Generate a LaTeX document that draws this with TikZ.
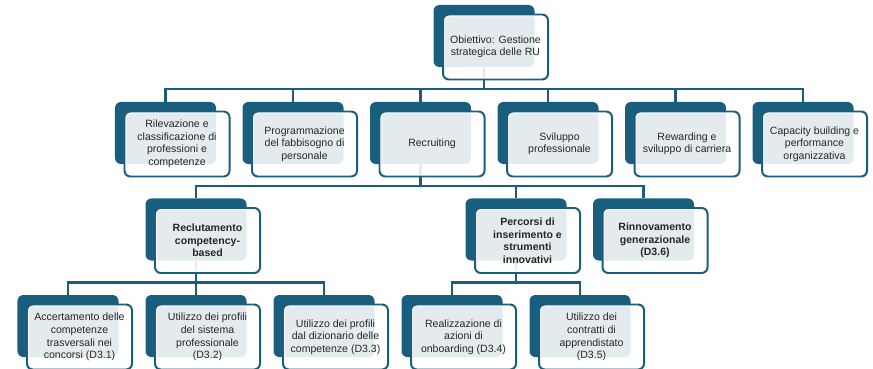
\documentclass[tikz,border=0pt]{standalone}
\usepackage{fontspec}
\setmainfont{Liberation Sans}
\definecolor{hrblue}{HTML}{1A5E7E}
\begin{document}
\begin{tikzpicture}[x=0.03cm, y=-0.03cm] % 1 unit = 1 px, y вниз
\tikzstyle{backbox} = [rectangle, rounded corners=5pt, fill=hrblue, minimum width=3.03cm, minimum height=1.86cm, inner sep=0pt, outer sep=0pt] % тёмная подложка
\tikzstyle{frontbox} = [rectangle, rounded corners=5pt, draw=hrblue, line width=1.7pt, fill=white, fill opacity=0.88, text opacity=1, text=black!85, minimum width=3.15cm, minimum height=1.95cm, inner sep=1pt, align=center, font=\fontsize{9}{10.7}\selectfont, path picture={\draw[white, line width=3.4pt, rounded corners=5pt] (path picture bounding box.north west) rectangle (path picture bounding box.south east);}] % светлая карточка с текстом
\tikzstyle{keybox} = [frontbox, font=\fontsize{9}{10.7}\selectfont\bfseries] % жирный текст
\tikzstyle{conn} = [draw=hrblue, line width=2pt] % соединительные линии
\useasboundingbox (0,0) rectangle (873,369);
% подложки
\foreach \n/\x/\y in {ob/484/36, ril/165.5/133, pro/293/133, rec/420.5/133, svi/548/133, rew/675.5/133, cap/803/133, rcl/196/229.5, per/516/229.5, rin/643.5/229.5, d31/68/326, d32/196/326, d33/324/326, d34/452/326, d35/580/326}
    \node[backbox] (\n) at (\x,\y) {};
% связи
\foreach \c in {ril,pro,rec,svi,rew,cap} \draw[conn] (ob.south) -- ++(0,22) -| (\c.north);
\foreach \c in {rcl,per,rin} \draw[conn] (rec.south) -- ++(0,22) -| (\c.north);
\foreach \c in {d31,d32,d33} \draw[conn] (rcl.south) -- ++(0,22) -| (\c.north);
\foreach \c in {d34,d35} \draw[conn] (per.south) -- ++(0,22) -| (\c.north);
% карточки
\node[frontbox] (obt) at ([shift={(11.5,11)}]ob.center) {Obiettivo: Gestione\\strategica delle RU};
\node[frontbox] (rilt) at ([shift={(11.5,11)}]ril.center) {Rilevazione e\\classificazione di\\professioni e\\competenze};
\node[frontbox] (prot) at ([shift={(11.5,11)}]pro.center) {Programmazione\\del fabbisogno di\\personale};
\node[frontbox] (rect) at ([shift={(11.5,11)}]rec.center) {Recruiting};
\node[frontbox] (svit) at ([shift={(11.5,11)}]svi.center) {Sviluppo\\professionale};
\node[frontbox] (rewt) at ([shift={(11.5,11)}]rew.center) {Rewarding e\\sviluppo di carriera};
\node[frontbox] (capt) at ([shift={(11.5,11)}]cap.center) {Capacity building e\\performance\\organizzativa};
\node[keybox] (rclt) at ([shift={(11.5,11)}]rcl.center) {Reclutamento\\competency-\\based};
\node[keybox] (pert) at ([shift={(11.5,11)}]per.center) {Percorsi di\\inserimento e\\strumenti\\innovativi};
\node[keybox] (rint) at ([shift={(11.5,11)}]rin.center) {Rinnovamento\\generazionale\\(D3.6)};
\node[frontbox] (d31t) at ([shift={(11.5,11)}]d31.center) {Accertamento delle\\competenze\\trasversali nei\\concorsi (D3.1)};
\node[frontbox] (d32t) at ([shift={(11.5,11)}]d32.center) {Utilizzo dei profili\\del sistema\\professionale\\(D3.2)};
\node[frontbox] (d33t) at ([shift={(11.5,11)}]d33.center) {Utilizzo dei profili\\dal dizionario delle\\competenze (D3.3)};
\node[frontbox] (d34t) at ([shift={(11.5,11)}]d34.center) {Realizzazione di\\azioni di\\onboarding (D3.4)};
\node[frontbox] (d35t) at ([shift={(11.5,11)}]d35.center) {Utilizzo dei\\contratti di\\apprendistato\\(D3.5)};
\end{tikzpicture}
\end{document}
